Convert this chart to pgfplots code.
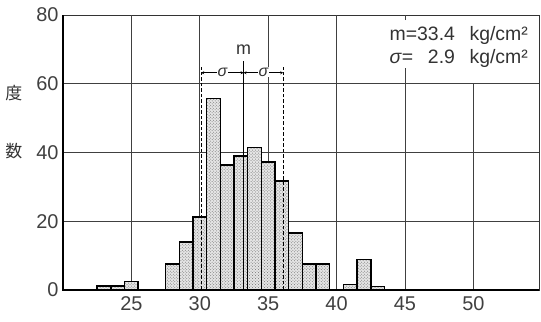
\documentclass[border=0pt]{standalone}
\usepackage{fontspec}
\setmainfont{Liberation Sans}
\newfontfamily\cjk{Noto Sans CJK JP}
\usepackage{pgfplots}
\pgfplotsset{compat=1.18}
\usetikzlibrary{patterns,arrows.meta}
\begin{document}
\begin{tikzpicture}
\path[use as bounding box] (0,0) rectangle (541bp,322bp);
\begin{axis}[
  at={(63bp,32bp)}, anchor=south west,
  scale only axis, width=476bp, height=275bp,
  xmin=20, xmax=54.8, ymin=0, ymax=80,
  xtick={25,30,...,50}, ytick={0,20,...,80},
  major tick length=0pt,
  /pgf/number format/assume math mode=true,
  tick label style={font=\fontsize{20}{20}\selectfont, text=black!75},
  xticklabel style={yshift=-3bp},
  yticklabel style={xshift=-1bp},
  axis line style={line width=0.8bp, black!80},
  clip=false,
  ybar, bar width=1, bar shift=0,
]
% grid lines
\draw[black!75, line width=0.6bp] (axis cs:25,0) -- (axis cs:25,80);
\draw[black!75, line width=0.6bp] (axis cs:30,0) -- (axis cs:30,80);
\draw[black!75, line width=0.6bp] (axis cs:35,0) -- (axis cs:35,80);
\draw[black!75, line width=0.6bp] (axis cs:40,0) -- (axis cs:40,80);
\draw[black!75, line width=0.6bp] (axis cs:45,0) -- (axis cs:45,64.5);
\draw[black!75, line width=0.6bp] (axis cs:45,78.5) -- (axis cs:45,80);
\draw[black!75, line width=0.6bp] (axis cs:50,0) -- (axis cs:50,60);
\draw[black!75, line width=0.6bp] (axis cs:20,20) -- (axis cs:54.8,20);
\draw[black!75, line width=0.6bp] (axis cs:20,40) -- (axis cs:54.8,40);
\draw[black!75, line width=0.6bp] (axis cs:20,60) -- (axis cs:54.8,60);

\addplot[draw=black, line width=1.5bp, fill=black!10,
  postaction={pattern=crosshatch dots, pattern color=black!55}]
coordinates {(23,1.2)(24,1.2)(25,2.4)(28,7.6)(29,14)(30,21.2)(31,55.7)(32,36.3)(33,39)(34,41.4)(35,37.3)(36,31.7)(37,16.6)(38,7.6)(39,7.6)(41,1.6)(42,8.8)(43,1)};

% thick left and bottom axis lines
\draw[black, line width=2bp] (axis cs:20,80) -- (axis cs:20,0) -- (axis cs:54.8,0);

% mean and sigma lines
\draw[black, line width=1.3bp, dash pattern=on 3.5bp off 2bp] (axis cs:30.1,0) -- (axis cs:30.1,64.8);
\draw[black, line width=1.3bp, dash pattern=on 3.5bp off 2bp] (axis cs:36.1,0) -- (axis cs:36.1,64.8);
\draw[black, line width=0.7bp] (axis cs:33.2,0) -- (axis cs:33.2,66.5);
\draw[black, line width=0.7bp, {Stealth[length=3bp,width=3bp]}-{Stealth[length=3bp,width=3bp]}] (axis cs:30.1,63.2) -- (axis cs:33.2,63.2);
\draw[black, line width=0.7bp, {Stealth[length=3bp,width=3bp]}-{Stealth[length=3bp,width=3bp]}] (axis cs:33.2,63.2) -- (axis cs:36.1,63.2);
\node[fill=white, inner sep=0.5bp, font=\fontsize{16}{16}\selectfont\itshape, text=black!80] at (axis cs:31.65,63.4) {σ};
\node[fill=white, inner sep=0.5bp, font=\fontsize{16}{16}\selectfont\itshape, text=black!80] at (axis cs:34.65,63.4) {σ};
\node[font=\fontsize{18}{18}\selectfont, text=black!80] at (axis cs:33.2,69.8) {m};

% statistics box
\node[anchor=north east, inner sep=0pt, text=black!80, font=\fontsize{19.5}{23}\selectfont] at (axis cs:54.0,77.3)
  {\begin{tabular}{@{}l@{}r@{\hspace{0.75em}}l@{}}
   m= & 33.4 & kg/cm² \\
   \textit{σ}= & 2.9 & kg/cm²
   \end{tabular}};

% y-axis title
\node[font=\fontsize{17}{17}\cjk, text=black!80] at (axis cs:16.4,57.3) {度};
\node[font=\fontsize{17}{17}\cjk, text=black!80] at (axis cs:16.4,40.4) {数};
\end{axis}
\end{tikzpicture}
\end{document}
